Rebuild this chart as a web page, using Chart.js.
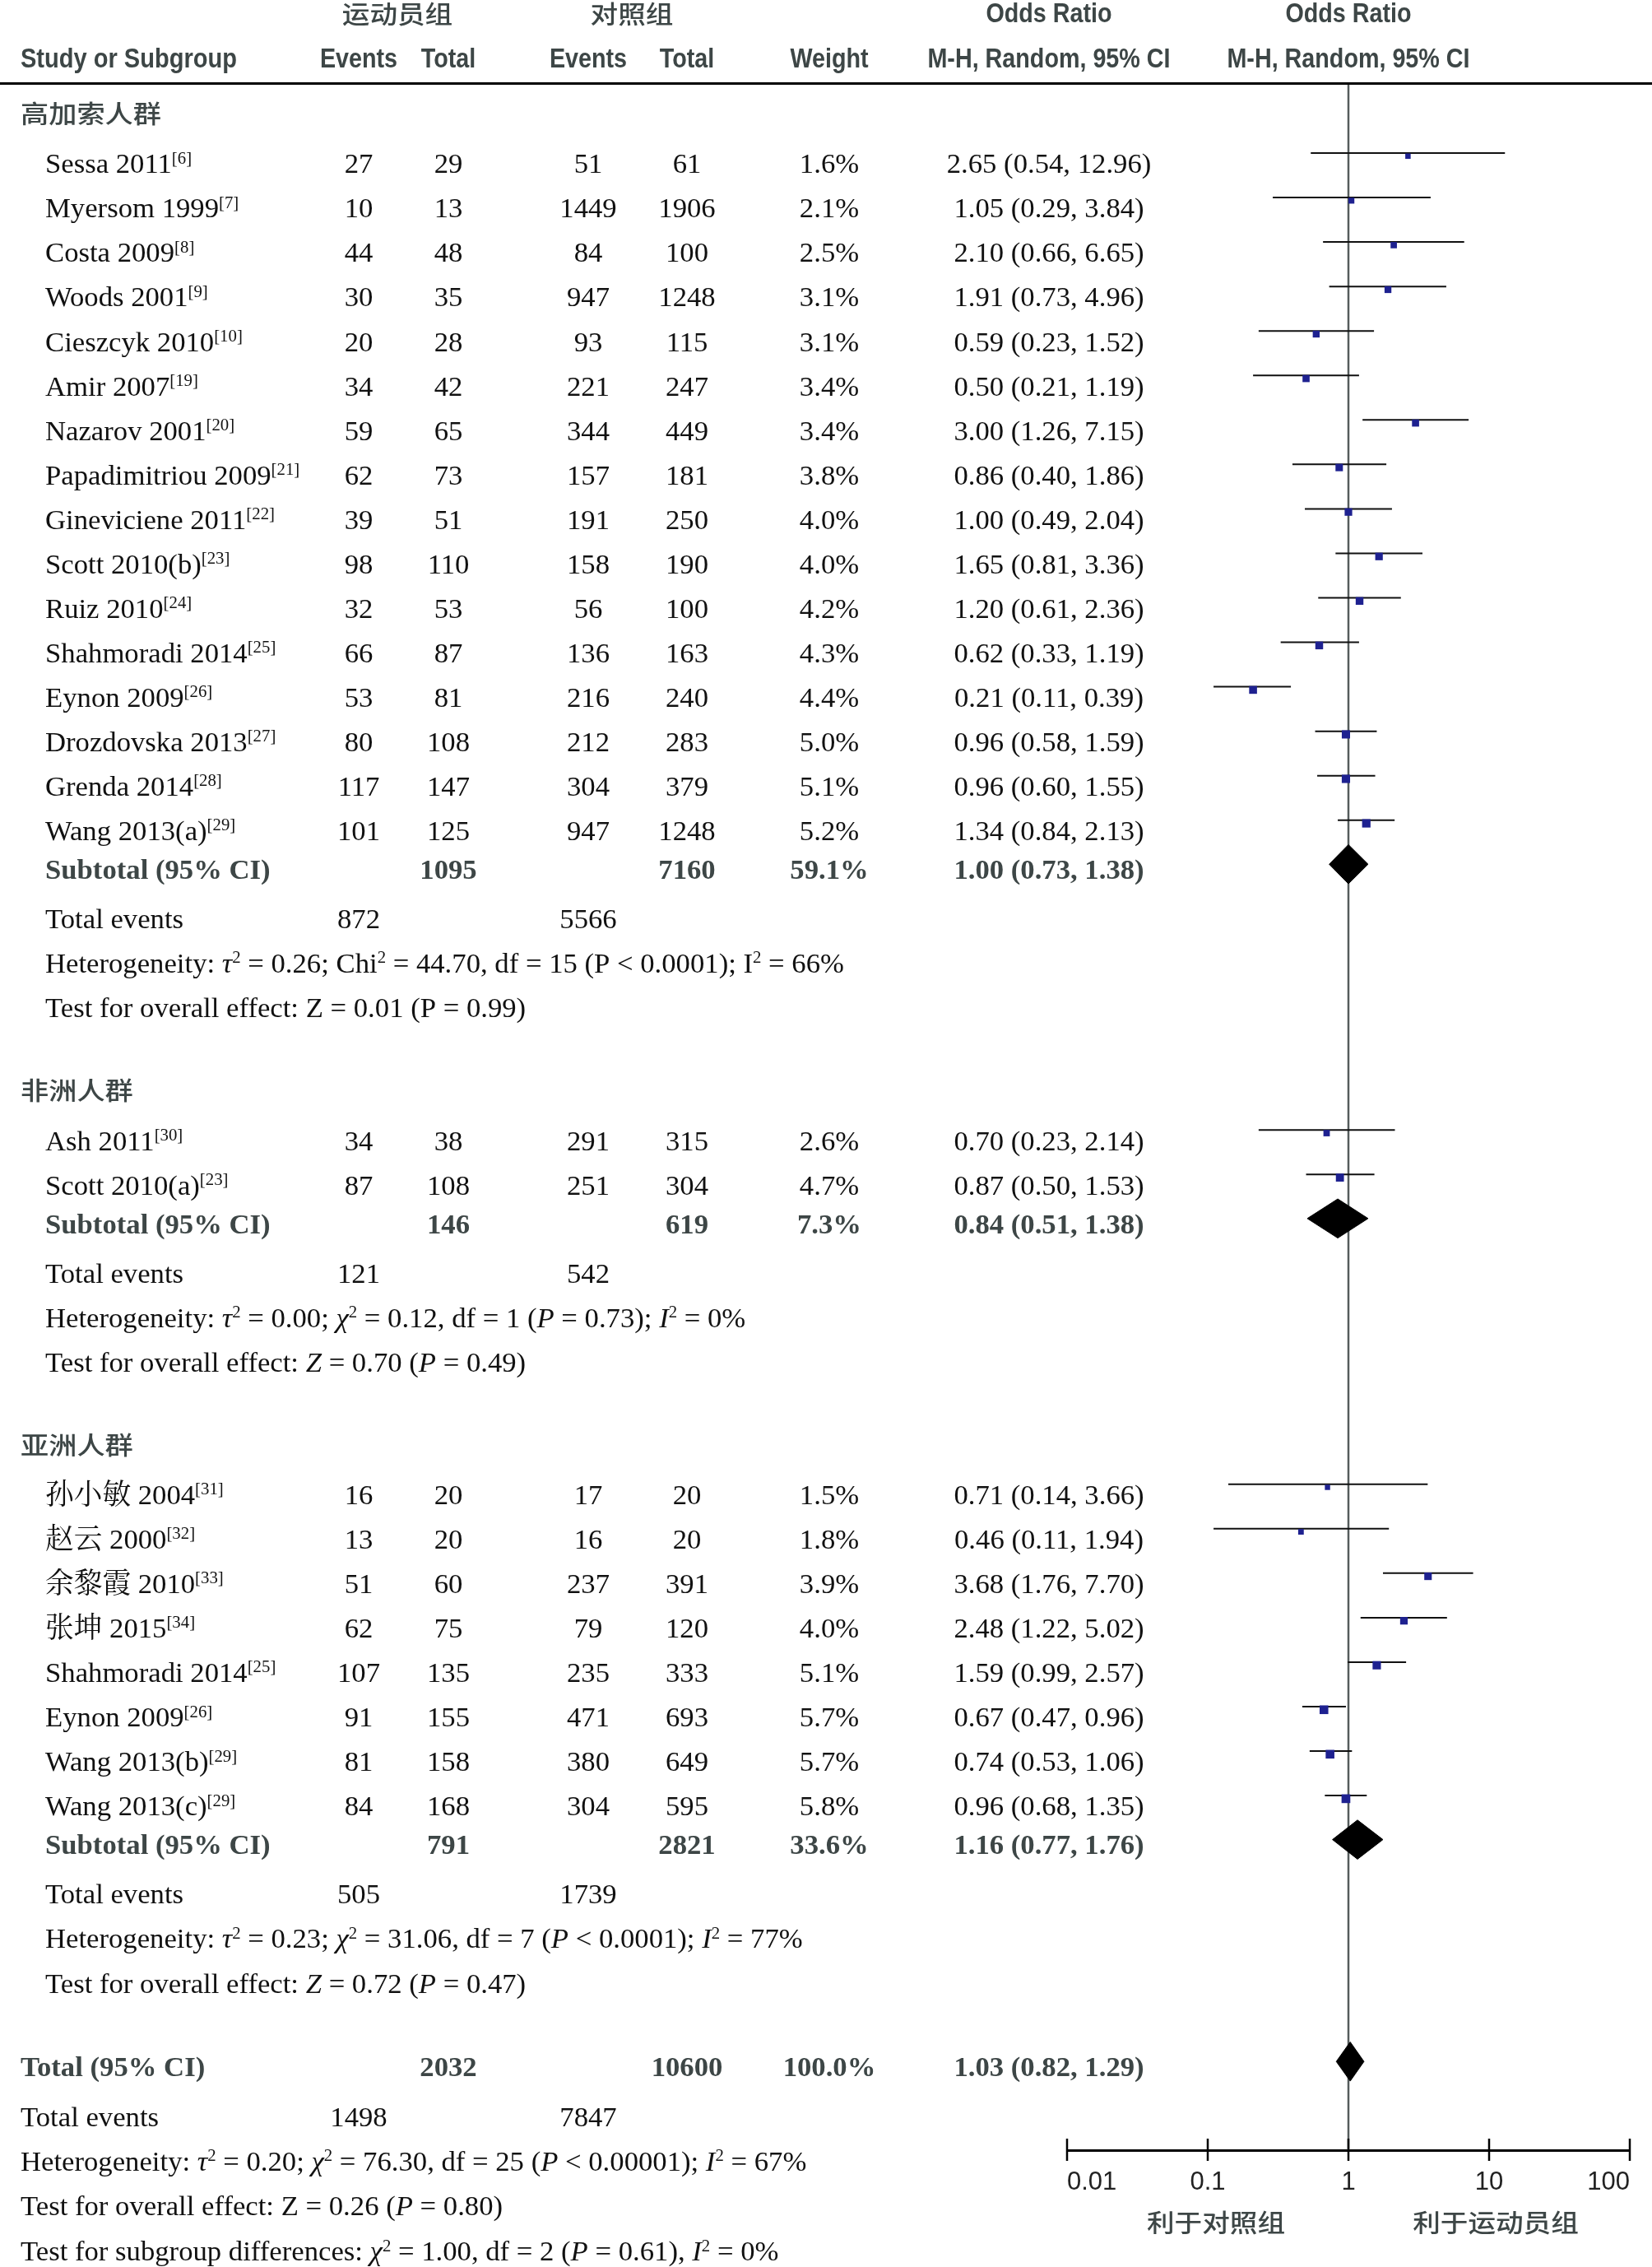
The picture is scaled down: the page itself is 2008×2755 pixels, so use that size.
<!DOCTYPE html>
<html>
<head>
<meta charset="utf-8">
<script src="https://cdn.jsdelivr.net/npm/chart.js@4.4.1/dist/chart.umd.min.js"></script>
<style>
  html, body { margin: 0; padding: 0; background: #fff; }
  #wrap { width: 2008px; height: 2755px; position: relative; }
</style>
</head>
<body>
<div id="wrap"><canvas id="forestChart"></canvas></div>
<script>
// ---- data ----
const groupLabels = ["高加索人群", "非洲人群", "亚洲人群"];

const studyLabels = [
  "Sessa 2011", "Myersom 1999", "Costa 2009", "Woods 2001", "Cieszcyk 2010", "Amir 2007",
  "Nazarov 2001", "Papadimitriou 2009", "Gineviciene 2011", "Scott 2010(b)", "Ruiz 2010",
  "Shahmoradi 2014", "Eynon 2009", "Drozdovska 2013", "Grenda 2014", "Wang 2013(a)",
  "Ash 2011", "Scott 2010(a)",
  "孙小敏 2004", "赵云 2000", "余黎霞 2010", "张坤 2015", "Shahmoradi 2014", "Eynon 2009",
  "Wang 2013(b)", "Wang 2013(c)"
];
const studyRefs = ["6", "7", "8", "9", "10", "19", "20", "21", "22", "23", "24", "25", "26", "27", "28", "29",
  "30", "23", "31", "32", "33", "34", "25", "26", "29", "29"];
const studyGroup = [0, 0, 0, 0, 0, 0, 0, 0, 0, 0, 0, 0, 0, 0, 0, 0, 1, 1, 2, 2, 2, 2, 2, 2, 2, 2];
const athleteEvents = [27, 10, 44, 30, 20, 34, 59, 62, 39, 98, 32, 66, 53, 80, 117, 101, 34, 87, 16, 13, 51, 62, 107, 91, 81, 84];
const athleteTotal = [29, 13, 48, 35, 28, 42, 65, 73, 51, 110, 53, 87, 81, 108, 147, 125, 38, 108, 20, 20, 60, 75, 135, 155, 158, 168];
const controlEvents = [51, 1449, 84, 947, 93, 221, 344, 157, 191, 158, 56, 136, 216, 212, 304, 947, 291, 251, 17, 16, 237, 79, 235, 471, 380, 304];
const controlTotal = [61, 1906, 100, 1248, 115, 247, 449, 181, 250, 190, 100, 163, 240, 283, 379, 1248, 315, 304, 20, 20, 391, 120, 333, 693, 649, 595];
const studyWeight = [1.6, 2.1, 2.5, 3.1, 3.1, 3.4, 3.4, 3.8, 4.0, 4.0, 4.2, 4.3, 4.4, 5.0, 5.1, 5.2, 2.6, 4.7, 1.5, 1.8, 3.9, 4.0, 5.1, 5.7, 5.7, 5.8];
const oddsRatio = [2.65, 1.05, 2.10, 1.91, 0.59, 0.50, 3.00, 0.86, 1.00, 1.65, 1.20, 0.62, 0.21, 0.96, 0.96, 1.34, 0.70, 0.87, 0.71, 0.46, 3.68, 2.48, 1.59, 0.67, 0.74, 0.96];
const ciLower = [0.54, 0.29, 0.66, 0.73, 0.23, 0.21, 1.26, 0.40, 0.49, 0.81, 0.61, 0.33, 0.11, 0.58, 0.60, 0.84, 0.23, 0.50, 0.14, 0.11, 1.76, 1.22, 0.99, 0.47, 0.53, 0.68];
const ciUpper = [12.96, 3.84, 6.65, 4.96, 1.52, 1.19, 7.15, 1.86, 2.04, 3.36, 2.36, 1.19, 0.39, 1.59, 1.55, 2.13, 2.14, 1.53, 3.66, 1.94, 7.70, 5.02, 2.57, 0.96, 1.06, 1.35];

const groupAthleteTotal = [1095, 146, 791];
const groupControlTotal = [7160, 619, 2821];
const groupWeight = [59.1, 7.3, 33.6];
const groupOR = [1.00, 0.84, 1.16];
const groupLower = [0.73, 0.51, 0.77];
const groupUpper = [1.38, 1.38, 1.76];
const groupAthleteEvents = [872, 121, 505];
const groupControlEvents = [5566, 542, 1739];
const groupHeterogeneity = [
  "Heterogeneity: {i:τ}{s:2} = 0.26; Chi{s:2} = 44.70, df = 15 (P < 0.0001); I{s:2} = 66%",
  "Heterogeneity: {i:τ}{s:2} = 0.00; {i:χ}{s:2} = 0.12, df = 1 ({i:P} = 0.73); {i:I}{s:2} = 0%",
  "Heterogeneity: {i:τ}{s:2} = 0.23; {i:χ}{s:2} = 31.06, df = 7 ({i:P} < 0.0001); {i:I}{s:2} = 77%"
];
const groupEffect = [
  "Test for overall effect: Z = 0.01 (P = 0.99)",
  "Test for overall effect: {i:Z} = 0.70 ({i:P} = 0.49)",
  "Test for overall effect: {i:Z} = 0.72 ({i:P} = 0.47)"
];

const totalAthlete = 2032;
const totalControl = 10600;
const totalWeight = 100.0;
const totalOR = 1.03;
const totalLower = 0.82;
const totalUpper = 1.29;
const totalAthleteEvents = 1498;
const totalControlEvents = 7847;
const totalHeterogeneity = "Heterogeneity: {i:τ}{s:2} = 0.20; {i:χ}{s:2} = 76.30, df = 25 ({i:P} < 0.00001); {i:I}{s:2} = 67%";
const totalEffect = "Test for overall effect: Z = 0.26 ({i:P} = 0.80)";
const subgroupTest = "Test for subgroup differences: {i:χ}{s:2} = 1.00, df = 2 ({i:P} = 0.61), {i:I}{s:2} = 0%";

const axisTicks = [0.01, 0.1, 1, 10, 100];
const favourLabels = ["利于对照组", "利于运动员组"];

// ---- layout ----
const ROW_PX = 54.05;
const AREA_TOP = 103;
const AREA_BOTTOM = 2613;
const yMax = (AREA_BOTTOM - AREA_TOP) / ROW_PX;
const COL = { ev1: 436, tot1: 545, ev2: 715, tot2: 835, weight: 1008, or: 1275 };
const GAP = { header: 1.85, first: 1.135, study: 1, subtotal: 0.87, events: 1.11, stat: 1, total: 1.88, totalEvents: 1.13 };

const SERIF = '"Liberation Serif", "Noto Serif CJK SC", "Noto Sans CJK SC", serif';
const SANS = '"Liberation Sans", Arial, sans-serif';
const CJK = '"Noto Sans CJK SC", sans-serif';
const INK = "#111";
const GREY = "#3d4646";
const SQUARE = "#1e2190";
const BODY_SIZE = 34.7;

const rows = [];
let pos = 0.851;
groupLabels.forEach((g, gi) => {
  if (gi > 0) pos += GAP.header;
  rows.push({ kind: "group", y: pos, gi });
  let first = true;
  studyGroup.forEach((sg, si) => {
    if (sg !== gi) return;
    pos += first ? GAP.first : GAP.study;
    first = false;
    rows.push({ kind: "study", y: pos, si });
  });
  pos += GAP.subtotal; rows.push({ kind: "subtotal", y: pos, gi });
  pos += GAP.events; rows.push({ kind: "events", y: pos, gi });
  pos += GAP.stat; rows.push({ kind: "het", y: pos, gi });
  pos += GAP.stat; rows.push({ kind: "effect", y: pos, gi });
});
pos += GAP.total; rows.push({ kind: "total", y: pos });
pos += GAP.totalEvents; rows.push({ kind: "totalEvents", y: pos });
pos += GAP.stat; rows.push({ kind: "totalHet", y: pos });
pos += GAP.stat; rows.push({ kind: "totalEffect", y: pos });
pos += 1.02; rows.push({ kind: "subgroupTest", y: pos });

// ---- datasets ----
const studyRows = rows.filter(r => r.kind === "study");
const ciPoints = [];
studyRows.forEach(r => {
  ciPoints.push({ x: ciLower[r.si], y: r.y - 0.45 });
  ciPoints.push({ x: ciUpper[r.si], y: r.y - 0.45 });
  ciPoints.push({ x: null, y: null });
});
const estPoints = studyRows.map(r => ({ x: oddsRatio[r.si], y: r.y - 0.38 }));
const estRadius = studyRows.map(r => (3.6 * Math.sqrt(studyWeight[r.si]) + 2) / Math.SQRT2);

function diamond(est, lo, hi, rowY) {
  const c = rowY - 0.33, h = 0.44;
  return [
    { x: lo, y: c }, { x: est, y: c - h }, { x: hi, y: c }, { x: est, y: c + h }, { x: lo, y: c }
  ];
}
const diamonds = rows.filter(r => r.kind === "subtotal")
  .map(r => diamond(groupOR[r.gi], groupLower[r.gi], groupUpper[r.gi], r.y));
diamonds.push(diamond(totalOR, totalLower, totalUpper, rows.find(r => r.kind === "total").y));

// ---- text helpers ----
function parseRich(str) {
  const parts = [];
  const re = /\{([is]):([^}]*)\}/g;
  let last = 0, m;
  while ((m = re.exec(str))) {
    if (m.index > last) parts.push({ t: str.slice(last, m.index), k: "" });
    parts.push({ t: m[2], k: m[1] });
    last = re.lastIndex;
  }
  if (last < str.length) parts.push({ t: str.slice(last), k: "" });
  return parts;
}

function richFont(k, size, bold) {
  const w = bold ? "bold " : "";
  if (k === "i") return `italic ${w}${size}px ${SERIF}`;
  if (k === "s") return `${w}${(size * 0.6).toFixed(1)}px ${SERIF}`;
  return `${w}${size}px ${SERIF}`;
}

function drawRich(ctx, str, x, y, o = {}) {
  const size = o.size || BODY_SIZE;
  const parts = parseRich(str);
  ctx.save();
  ctx.fillStyle = o.color || INK;
  ctx.textBaseline = "alphabetic";
  ctx.textAlign = "left";
  let total = 0;
  parts.forEach(p => {
    ctx.font = richFont(p.k, size, o.bold);
    p.w = ctx.measureText(p.t).width;
    total += p.w;
  });
  let cx = o.align === "center" ? x - total / 2 : (o.align === "right" ? x - total : x);
  parts.forEach(p => {
    ctx.font = richFont(p.k, size, o.bold);
    ctx.fillText(p.t, cx, p.k === "s" ? y - size * 0.34 : y);
    cx += p.w;
  });
  ctx.restore();
}

function drawScaled(ctx, str, x, y, font, color, align, sx) {
  ctx.save();
  ctx.font = font;
  ctx.fillStyle = color;
  ctx.textAlign = align;
  ctx.textBaseline = "alphabetic";
  ctx.translate(x, y);
  ctx.scale(sx, 1);
  ctx.fillText(str, 0, 0);
  ctx.restore();
}

const fmtOR = (e, l, h) => `${e.toFixed(2)} (${l.toFixed(2)}, ${h.toFixed(2)})`;

// ---- plugin drawing the table around the plot ----
const forestTable = {
  id: "forestTable",
  beforeDatasetsDraw(chart) {
    const { ctx, chartArea, scales: { x } } = chart;
    const px = x.getPixelForValue(1);
    ctx.save();
    ctx.strokeStyle = "#555c5c";
    ctx.lineWidth = 2.5;
    ctx.beginPath();
    ctx.moveTo(px, chartArea.top);
    ctx.lineTo(px, chartArea.bottom);
    ctx.stroke();
    ctx.restore();
  },
  afterDraw(chart) {
    const { ctx, chartArea, scales: { x, y } } = chart;
    const hdFont = `bold 33px ${SANS}`;
    const cjkFont = `500 30px ${CJK}`;

    // column headings
    drawScaled(ctx, "运动员组", 483, 28, cjkFont, GREY, "center", 1.12);
    drawScaled(ctx, "对照组", 768, 28, cjkFont, GREY, "center", 1.12);
    drawScaled(ctx, "Odds Ratio", COL.or, 27, hdFont, GREY, "center", 0.87);
    drawScaled(ctx, "Odds Ratio", x.getPixelForValue(1), 27, hdFont, GREY, "center", 0.87);
    drawScaled(ctx, "Study or Subgroup", 25, 82, hdFont, GREY, "left", 0.88);
    drawScaled(ctx, "Events", COL.ev1, 82, hdFont, GREY, "center", 0.87);
    drawScaled(ctx, "Total", COL.tot1, 82, hdFont, GREY, "center", 0.87);
    drawScaled(ctx, "Events", COL.ev2, 82, hdFont, GREY, "center", 0.87);
    drawScaled(ctx, "Total", COL.tot2, 82, hdFont, GREY, "center", 0.87);
    drawScaled(ctx, "Weight", COL.weight, 82, hdFont, GREY, "center", 0.87);
    drawScaled(ctx, "M-H, Random, 95% CI", COL.or, 82, hdFont, GREY, "center", 0.87);
    drawScaled(ctx, "M-H, Random, 95% CI", x.getPixelForValue(1), 82, hdFont, GREY, "center", 0.87);

    ctx.save();
    ctx.fillStyle = "#000";
    ctx.fillRect(0, chartArea.top - 3, chart.width, 3);
    ctx.restore();

    // table rows
    rows.forEach(r => {
      const py = y.getPixelForValue(r.y);
      if (r.kind === "group") {
        drawScaled(ctx, groupLabels[r.gi], 25, py, cjkFont, GREY, "left", 1.14);
      } else if (r.kind === "study") {
        const i = r.si;
        drawRich(ctx, `${studyLabels[i]}{s:[${studyRefs[i]}]}`, 55, py);
        drawRich(ctx, String(athleteEvents[i]), COL.ev1, py, { align: "center" });
        drawRich(ctx, String(athleteTotal[i]), COL.tot1, py, { align: "center" });
        drawRich(ctx, String(controlEvents[i]), COL.ev2, py, { align: "center" });
        drawRich(ctx, String(controlTotal[i]), COL.tot2, py, { align: "center" });
        drawRich(ctx, studyWeight[i].toFixed(1) + "%", COL.weight, py, { align: "center" });
        drawRich(ctx, fmtOR(oddsRatio[i], ciLower[i], ciUpper[i]), COL.or, py, { align: "center" });
      } else if (r.kind === "subtotal") {
        const g = r.gi, b = { bold: true, color: GREY, align: "center" };
        drawRich(ctx, "Subtotal (95% CI)", 55, py, { bold: true, color: GREY });
        drawRich(ctx, String(groupAthleteTotal[g]), COL.tot1, py, b);
        drawRich(ctx, String(groupControlTotal[g]), COL.tot2, py, b);
        drawRich(ctx, groupWeight[g].toFixed(1) + "%", COL.weight, py, b);
        drawRich(ctx, fmtOR(groupOR[g], groupLower[g], groupUpper[g]), COL.or, py, b);
      } else if (r.kind === "events") {
        drawRich(ctx, "Total events", 55, py);
        drawRich(ctx, String(groupAthleteEvents[r.gi]), COL.ev1, py, { align: "center" });
        drawRich(ctx, String(groupControlEvents[r.gi]), COL.ev2, py, { align: "center" });
      } else if (r.kind === "het") {
        drawRich(ctx, groupHeterogeneity[r.gi], 55, py);
      } else if (r.kind === "effect") {
        drawRich(ctx, groupEffect[r.gi], 55, py);
      } else if (r.kind === "total") {
        const b = { bold: true, color: GREY, align: "center" };
        drawRich(ctx, "Total (95% CI)", 25, py, { bold: true, color: GREY });
        drawRich(ctx, String(totalAthlete), COL.tot1, py, b);
        drawRich(ctx, String(totalControl), COL.tot2, py, b);
        drawRich(ctx, totalWeight.toFixed(1) + "%", COL.weight, py, b);
        drawRich(ctx, fmtOR(totalOR, totalLower, totalUpper), COL.or, py, b);
      } else if (r.kind === "totalEvents") {
        drawRich(ctx, "Total events", 25, py);
        drawRich(ctx, String(totalAthleteEvents), COL.ev1, py, { align: "center" });
        drawRich(ctx, String(totalControlEvents), COL.ev2, py, { align: "center" });
      } else if (r.kind === "totalHet") {
        drawRich(ctx, totalHeterogeneity, 25, py);
      } else if (r.kind === "totalEffect") {
        drawRich(ctx, totalEffect, 25, py);
      } else if (r.kind === "subgroupTest") {
        drawRich(ctx, subgroupTest, 25, py);
      }
    });

    // tick marks crossing the axis
    ctx.save();
    ctx.strokeStyle = "#000";
    ctx.lineWidth = 2.5;
    axisTicks.forEach(v => {
      const px = x.getPixelForValue(v);
      ctx.beginPath();
      ctx.moveTo(px, chartArea.bottom - 14);
      ctx.lineTo(px, chartArea.bottom + 13);
      ctx.stroke();
    });
    ctx.restore();

    // favours labels
    const mid = x.getPixelForValue(1);
    drawScaled(ctx, favourLabels[0], (chartArea.left + mid) / 2 + 10, 2712, cjkFont, GREY, "center", 1.12);
    drawScaled(ctx, favourLabels[1], (mid + chartArea.right) / 2 + 8, 2712, cjkFont, GREY, "center", 1.12);
  }
};

// ---- chart ----
const ctx = document.getElementById("forestChart").getContext("2d");
const forestChart = new Chart(ctx, {
  type: "scatter",
  data: {
    datasets: [
      {
        type: "line",
        label: "95% CI",
        data: ciPoints,
        borderColor: "#111",
        borderWidth: 2,
        pointRadius: 0,
        spanGaps: false,
        fill: false,
        order: 3
      },
      {
        label: "Odds ratio",
        data: estPoints,
        pointStyle: "rect",
        pointRadius: estRadius,
        pointHoverRadius: estRadius,
        backgroundColor: SQUARE,
        borderColor: SQUARE,
        borderWidth: 0,
        order: 2
      },
      ...diamonds.map((d, k) => ({
        type: "line",
        label: "Pooled " + k,
        data: d,
        borderColor: "#000",
        backgroundColor: "#000",
        borderWidth: 1,
        pointRadius: 0,
        tension: 0,
        fill: "shape",
        order: 1
      }))
    ]
  },
  options: {
    responsive: true,
    maintainAspectRatio: false,
    animation: false,
    layout: { padding: { left: 1297, right: 27, top: AREA_TOP, bottom: 0 } },
    plugins: { legend: { display: false }, tooltip: { enabled: false } },
    scales: {
      x: {
        type: "logarithmic",
        min: 0.01,
        max: 100,
        position: "bottom",
        afterBuildTicks: s => { s.ticks = axisTicks.map(v => ({ value: v })); },
        afterFit: s => { s.height = 2755 - AREA_BOTTOM; },
        grid: { display: false, drawTicks: false },
        border: { display: true, color: "#000", width: 3 },
        ticks: {
          align: "inner",
          padding: 21,
          autoSkip: false,
          maxRotation: 0,
          color: "#222",
          font: { family: "Liberation Sans", size: 31 },
          callback: v => String(v)
        }
      },
      y: { type: "linear", min: 0, max: yMax, reverse: true, display: false }
    }
  },
  plugins: [forestTable]
});
</script>
</body>
</html>
